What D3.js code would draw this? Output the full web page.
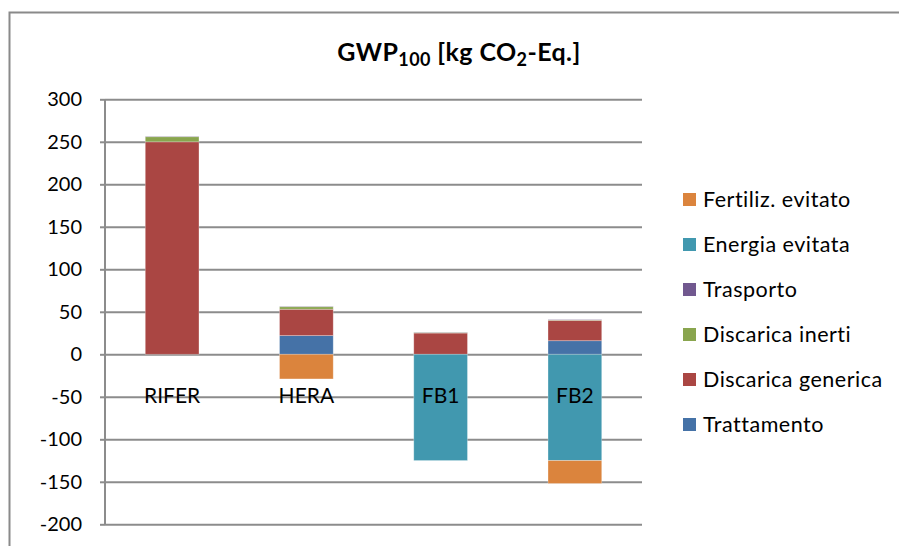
<!DOCTYPE html>
<html>
<head>
<meta charset="utf-8">
<script src="https://cdn.jsdelivr.net/npm/d3@7"></script>
<style>
  html, body { margin: 0; padding: 0; background: #fff; }
  svg { display: block; font-family: Lato, "Open Sans", sans-serif; }
</style>
</head>
<body>
<svg id="chart" width="899" height="546"></svg>
<script>
// ---- data ----
const categories = ["RIFER", "HERA", "FB1", "FB2"];
const trattamento       = [0, 22, 0, 16];
const discaricaGenerica = [250, 31, 25, 24];
const discaricaInerti   = [6, 3, 0.6, 0.4];
const trasporto         = [0.4, 0.4, 0.3, 0.4];
const energiaEvitata    = [0, 0, -125, -125];
const fertilizEvitato   = [0, -29, 0, -27];
const seriesNames = ["Trattamento", "Discarica generica", "Discarica inerti", "Trasporto", "Energia evitata", "Fertiliz. evitato"];
const seriesValues = [trattamento, discaricaGenerica, discaricaInerti, trasporto, energiaEvitata, fertilizEvitato];
const seriesColors = ["#4572A7", "#AA4643", "#89A54E", "#71588F", "#4198AF", "#DB843D"];
const yTicks = [-200, -150, -100, -50, 0, 50, 100, 150, 200, 250, 300];

// ---- layout ----
const svg = d3.select("#chart");
const plot = { left: 105, right: 642, top: 99.3, bottom: 524.3 };

svg.append("rect").attr("x", 9.5).attr("y", 12.5).attr("width", 900).attr("height", 600)
  .attr("fill", "#fff").attr("stroke", "#8a8a8a").attr("stroke-width", 2);

const rows = categories.map((c, i) => {
  const r = { cat: c };
  seriesNames.forEach((s, k) => r[s] = seriesValues[k][i]);
  return r;
});
const stacked = d3.stack().keys(seriesNames).offset(d3.stackOffsetDiverging)(rows);

const x = d3.scaleBand().domain(categories).range([plot.left, plot.right])
  .paddingInner(0.6).paddingOuter(0.3);
const y = d3.scaleLinear().domain([-200, 300]).range([plot.bottom, plot.top]);

// gridlines
const grid = svg.append("g").attr("transform", `translate(${plot.left},0)`)
  .call(d3.axisLeft(y).tickValues(yTicks).tickSize(-(plot.right - plot.left)).tickFormat(""));
grid.select(".domain").remove();
grid.selectAll("line").attr("stroke", "#8c8c8c").attr("stroke-width", 2);

// bars
svg.append("g").selectAll("g").data(stacked).join("g")
  .attr("fill", (d, i) => seriesColors[i])
  .selectAll("rect").data(d => d).join("rect")
  .attr("x", d => x(d.data.cat))
  .attr("width", x.bandwidth())
  .attr("y", d => y(Math.max(d[0], d[1])))
  .attr("height", d => Math.abs(y(d[0]) - y(d[1])))
  .attr("stroke", "#fff").attr("stroke-opacity", 0.35).attr("stroke-width", 0.8);

// category labels (drawn over bars)
svg.append("g").selectAll("text").data(categories).join("text")
  .attr("x", d => x(d) + x.bandwidth() / 2)
  .attr("y", 403)
  .attr("text-anchor", "middle")
  .attr("font-size", 21)
  .attr("fill", "#000")
  .text(d => d);

// y axis
const yAxis = svg.append("g").attr("transform", `translate(${plot.left},0)`)
  .call(d3.axisLeft(y).tickValues(yTicks).tickSize(5).tickPadding(18).tickFormat(d => String(d)));
yAxis.select(".domain").attr("stroke", "#8c8c8c").attr("stroke-width", 2)
  .attr("d", `M0,${plot.top}V${plot.bottom}`);
yAxis.selectAll(".tick line").attr("stroke", "#8c8c8c").attr("stroke-width", 2);
yAxis.selectAll("text").attr("font-size", 20).attr("fill", "#000")
  .attr("font-family", "Lato, sans-serif");

// title
const title = svg.append("text").attr("x", 459).attr("y", 61).attr("text-anchor", "middle")
  .attr("font-size", 25).attr("font-weight", "bold").attr("fill", "#000")
  .attr("letter-spacing", 0.4);
title.append("tspan").text("GWP");
title.append("tspan").attr("font-size", 18).attr("dy", 5).text("100");
title.append("tspan").attr("dy", -5).text(" [kg CO");
title.append("tspan").attr("font-size", 18).attr("dy", 5).text("2");
title.append("tspan").attr("dy", -5).text("-Eq.]");

// legend (reverse order)
const legendItems = seriesNames.map((n, i) => ({ name: n, color: seriesColors[i] })).reverse();
const lg = svg.append("g").selectAll("g").data(legendItems).join("g")
  .attr("transform", (d, i) => `translate(683,${200 + i * 45})`);
lg.append("rect").attr("x", 0).attr("y", -7).attr("width", 13).attr("height", 13)
  .attr("fill", d => d.color);
lg.append("text").attr("x", 20).attr("y", 7).attr("font-size", 21.5).attr("letter-spacing", 0.5)
  .attr("fill", "#000")
  .text(d => d.name);
</script>
</body>
</html>
